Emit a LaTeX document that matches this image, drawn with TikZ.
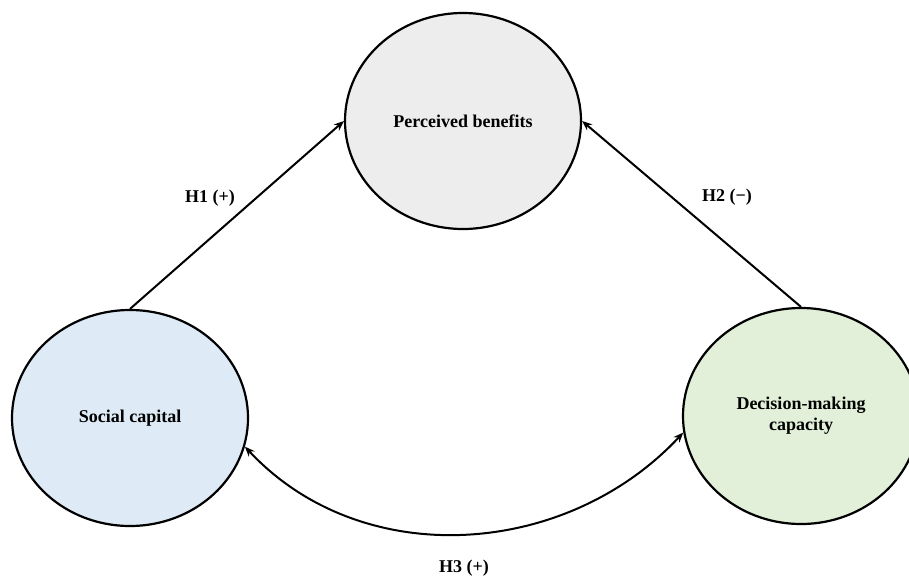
\documentclass[tikz,border=0pt]{standalone}
\usepackage{fontspec}
\setmainfont{Liberation Serif}
\usetikzlibrary{shapes.geometric,arrows.meta}

\definecolor{fillpb}{HTML}{EDEDED}
\definecolor{fillsc}{HTML}{DEEAF6}
\definecolor{filldm}{HTML}{E2EFD9}

\begin{document}
\begin{tikzpicture}[x=1pt, y=1pt,
  construct/.style = {ellipse, draw, line width=2.2pt, minimum width=236pt,
    minimum height=216pt, inner sep=0pt, align=center,
    font=\fontsize{18}{21}\selectfont\bfseries},
  hyp/.style = {line width=2pt, -{Stealth[length=10pt,width=8pt]}},
  hyplabel/.style = {font=\fontsize{18}{21}\selectfont\bfseries}]
  \useasboundingbox (0,0) rectangle (909,-576);

  % Les construits
  \node[construct, fill=fillpb] (pb) at (463,-121) {Perceived benefits};
  \node[construct, fill=fillsc] (sc) at (130,-418) {Social capital};
  \node[construct, fill=filldm] (dm) at (801,-416) {Decision-making\\capacity};

  % Les hypotheses
  \draw[hyp] (sc.north) -- (pb.west);
  \draw[hyp] (dm.north) -- (pb.east);
  \draw[hyp, {Stealth[length=10pt,width=8pt]}-{Stealth[length=10pt,width=8pt]}]
    (sc.-14) to[out=-47, in=-133, looseness=1] (dm.-172);

  % Les etiquettes
  \node[hyplabel] (h1) at (210,-198) {H1 (+)};
  \node[hyplabel] (h2) at (727,-197) {H2 (−)};
  \node[hyplabel] (h3) at (464,-568) {H3 (+)};
\end{tikzpicture}
\end{document}
